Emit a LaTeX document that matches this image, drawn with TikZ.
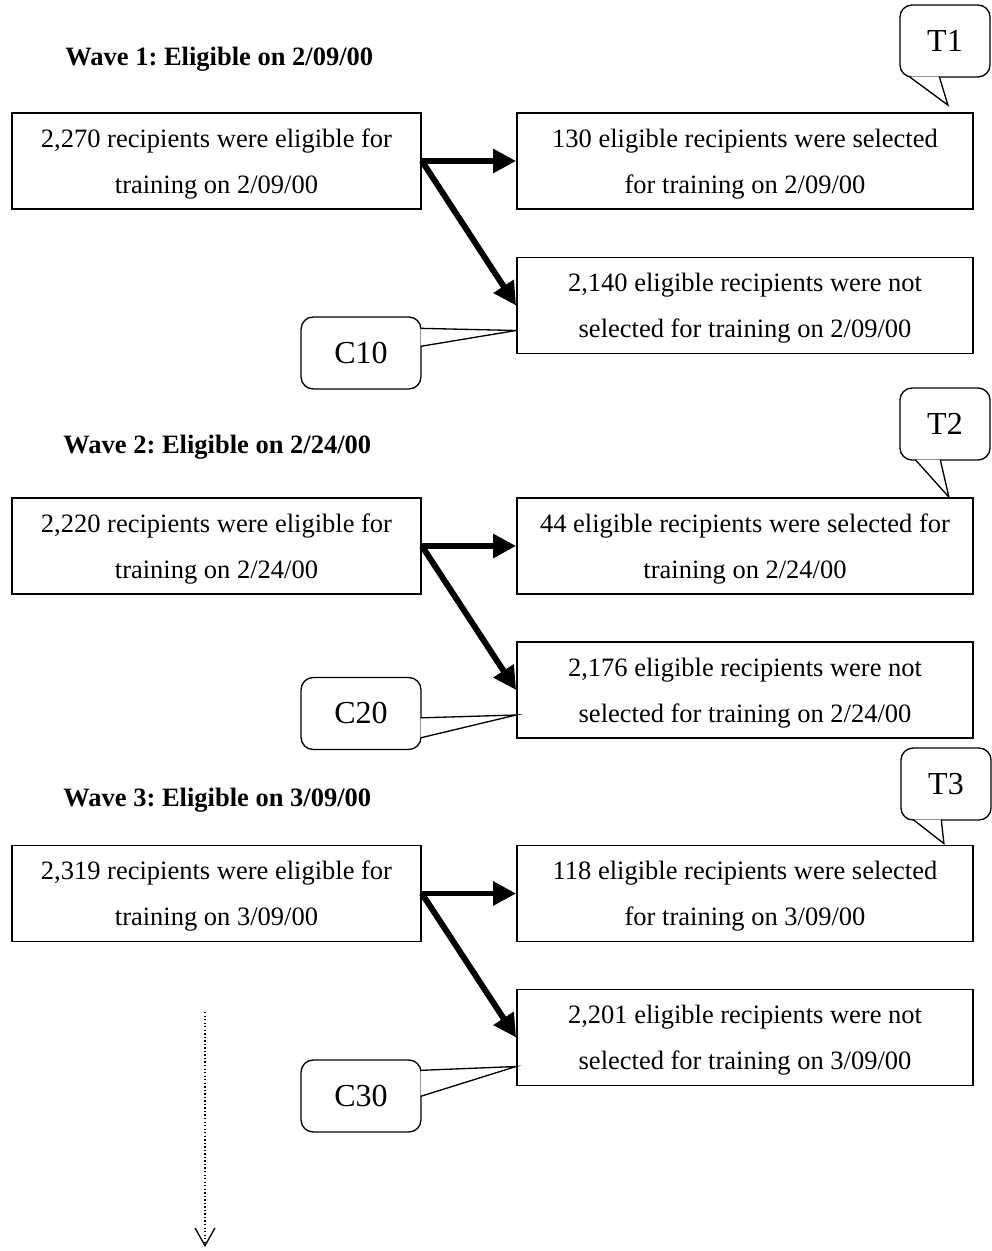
\documentclass[tikz,border=0pt]{standalone}
\usepackage{fontspec}
\setmainfont{Liberation Serif}
\frenchspacing
\usetikzlibrary{arrows.meta,calc}

\tikzset{
  box/.style={draw, thick, align=center, minimum height=43.5pt, text depth=-7pt,
    font=\fontsize{12pt}{20.8pt}\selectfont},
  leftbox/.style={box, minimum width=185.2pt},
  rightbox/.style={box, minimum width=206.5pt},
  wave/.style={anchor=base west, inner sep=0pt, font=\fontsize{12pt}{14pt}\selectfont\bfseries},
  callbox/.style={draw, semithick, rounded corners=5.5pt, minimum height=32.6pt, font=\fontsize{14.5pt}{17pt}\selectfont},
  flow/.style={line width=2.7pt, -{Triangle[length=10.4pt,width=10.4pt]}}
}

\begin{document}
\begin{tikzpicture}[x=0.4528pt, y=-0.4528pt]
  \useasboundingbox (0,0) rectangle (992,1251);
  % wave 1
  \node[wave] (w1) at (65,66) {Wave 1: Eligible on 2/09/00};
  \node[leftbox] (elig1) at (216.5,161) {2,270 recipients were eligible for\\training on 2/09/00};
  \node[rightbox] (sel1) at (745,161) {130 eligible recipients were selected\\for training on 2/09/00};
  \node[rightbox] (nsel1) at (745,305.5) {2,140 eligible recipients were not\\selected for training on 2/09/00};
  \draw[flow] (elig1.east) -- (sel1.west);
  \draw[flow] (elig1.east) -- (nsel1.west);
  \node[callbox, minimum width=54.3pt] (c10) at (361,353) {C10};
  \filldraw[semithick, fill=white] ([shift={(-1,12)}]c10.north east) -- ($(nsel1.west)+(0,25)$) -- ([shift={(-1,30)}]c10.north east);
  \node[callbox, minimum width=40.8pt] (t1) at (945,41) {T1};
  \filldraw[semithick, fill=white] ([shift={(10,-1)}]t1.south west) -- ([shift={(-26,-7)}]sel1.north east) -- ([shift={(40,-1)}]t1.south west);
  % wave 2
  \node[wave] (w2) at (63,453) {Wave 2: Eligible on 2/24/00};
  \node[leftbox] (elig2) at (216.5,546) {2,220 recipients were eligible for\\training on 2/24/00};
  \node[rightbox] (sel2) at (745,546) {44 eligible recipients were selected for\\training on 2/24/00};
  \node[rightbox] (nsel2) at (745,690) {2,176 eligible recipients were not\\selected for training on 2/24/00};
  \draw[flow] (elig2.east) -- (sel2.west);
  \draw[flow] (elig2.east) -- (nsel2.west);
  \node[callbox, minimum width=54.3pt] (c20) at (361,713.5) {C20};
  \filldraw[semithick, fill=white] ([shift={(-1,41)}]c20.north east) -- ($(nsel2.west)+(0,25)$) -- ([shift={(-1,61)}]c20.north east);
  \node[callbox, minimum width=40.8pt] (t2) at (945,424) {T2};
  \filldraw[semithick, fill=white] ([shift={(16,-1)}]t2.south west) -- ([shift={(-25,0)}]sel2.north east) -- ([shift={(41,-1)}]t2.south west);
  % wave 3
  \node[wave] (w3) at (63,806) {Wave 3: Eligible on 3/09/00};
  \node[leftbox] (elig3) at (216.5,893.5) {2,319 recipients were eligible for\\training on 3/09/00};
  \node[rightbox] (sel3) at (745,893.5) {118 eligible recipients were selected\\for training on 3/09/00};
  \node[rightbox] (nsel3) at (745,1037.5) {2,201 eligible recipients were not\\selected for training on 3/09/00};
  \draw[flow] (elig3.east) -- (sel3.west);
  \draw[flow] (elig3.east) -- (nsel3.west);
  \node[callbox, minimum width=54.3pt] (c30) at (361,1096) {C30};
  \filldraw[semithick, fill=white] ([shift={(-1,11)}]c30.north east) -- ($(nsel3.west)+(0,29)$) -- ([shift={(-1,37)}]c30.north east);
  \node[callbox, minimum width=40.8pt] (t3) at (946,784) {T3};
  \filldraw[semithick, fill=white] ([shift={(13,-1)}]t3.south west) -- ([shift={(-30,-1)}]sel3.north east) -- ([shift={(41,-1)}]t3.south west);
  % later waves
  \coordinate (more0) at (205,1012);
  \coordinate (more1) at (205,1247);
  \draw[densely dotted, semithick, -{Straight Barb[length=8pt,width=9pt]}] (more0) -- (more1);
\end{tikzpicture}
\end{document}
